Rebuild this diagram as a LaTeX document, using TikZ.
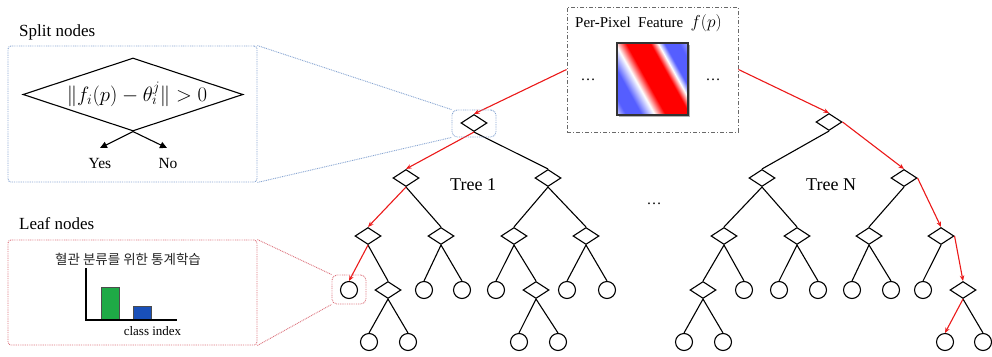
\documentclass[tikz,border=0pt]{standalone}
\usepackage{fontspec}
\setmainfont{Liberation Serif}
\newfontfamily\krfont{Noto Sans CJK KR}
\usetikzlibrary{shapes.geometric,arrows.meta}

\definecolor{splitblue}{RGB}{135,165,210}
\definecolor{leafred}{RGB}{220,115,125}
\definecolor{pathred}{RGB}{235,25,25}
\definecolor{framegray}{RGB}{105,105,105}
\definecolor{barblue}{RGB}{25,80,185}
\definecolor{bargreen}{RGB}{30,170,70}
\definecolor{wblue}{RGB}{55,65,255}
\definecolor{wred}{RGB}{255,0,0}

% sinusoidal response pattern of the per-pixel feature
\pgfdeclarehorizontalshading{gaborwave}{100bp}{%
  color(0bp)=(wblue!30!white); color(25bp)=(wblue!30!white);
  color(29bp)=(wblue!85!white); color(36bp)=(wblue!85!white);
  color(42bp)=(white); color(47bp)=(wred); color(58bp)=(wred);
  color(61.5bp)=(white); color(64.5bp)=(wblue!85!white);
  color(71bp)=(wblue!85!white); color(75bp)=(wblue!50!white);
  color(100bp)=(wblue!50!white)}

\begin{document}
\begin{tikzpicture}[x=1pt,y=-1pt,
  dnode/.style={draw, diamond, minimum width=26pt, minimum height=17pt, inner sep=0pt, line width=1.1pt},
  lnode/.style={draw, circle, minimum size=17pt, inner sep=0pt, line width=1.1pt},
  edge/.style={line width=1.1pt},
  redge/.style={draw=pathred, line width=1.1pt, -{Stealth[length=5.5pt,width=4.5pt]}},
  dotline/.style={line width=0.9pt, dash pattern=on 0.9pt off 0.9pt},
  zoombox/.style={draw, dotline, rectangle, rounded corners=3pt, inner sep=0pt},
  lbl/.style={inner sep=0pt},
]
\useasboundingbox (0,0) rectangle (992,356);

% ---------------- split node detail ----------------
\node[lbl, anchor=base west, font=\fontsize{17}{20}\selectfont] (splitlbl) at (19,36) {Split nodes};
\node[zoombox, draw=splitblue, minimum width=249pt, minimum height=136pt] (splitbox) at (132.5,114) {};
\node[draw, diamond, minimum width=220pt, minimum height=73pt, inner sep=0pt, line width=1.1pt] (sdia) at (133,94.5) {};
\node[lbl, font=\fontsize{19.5}{22}\selectfont] (rule) at (137,94) {$\bigl\| f_i(p) - \theta_i^j \bigr\| > 0$};
\coordinate (yestip) at (100,148);
\coordinate (notip) at (167,148);
\draw[edge, -{Triangle[length=7pt,width=6.5pt]}] (sdia.south) -- (yestip);
\draw[edge, -{Triangle[length=7pt,width=6.5pt]}] (sdia.south) -- (notip);
\node[lbl, anchor=base, font=\fontsize{15.5}{18}\selectfont] (yes) at (100,168) {Yes};
\node[lbl, anchor=base, font=\fontsize{15.5}{18}\selectfont] (no) at (168,168) {No};

% ---------------- leaf node detail ----------------
\node[lbl, anchor=base west, font=\fontsize{17}{20}\selectfont] (leaflbl) at (19,229) {Leaf nodes};
\node[zoombox, draw=leafred, minimum width=249pt, minimum height=105pt] (leafbox) at (132.5,292.5) {};
\node[lbl, font=\krfont\fontsize{13.5}{15}\selectfont, text=black!85] (kr) at (128,259) {혈관 분류를 위한 통계학습};
\fill[bargreen, draw=black!70, line width=0.6pt] (101,287) rectangle (119,320);
\fill[barblue, draw=black!70, line width=0.6pt] (133,306) rectangle (151,320);
\draw[line width=1.2pt] (86,268) -- (86,320) -- (177,320);
\node[lbl, anchor=base, font=\fontsize{13}{15}\selectfont] (cls) at (152.5,335.7) {class index};

% ---------------- feature box ----------------
\node[draw=framegray, line width=0.9pt, dash pattern=on 4pt off 2pt on 1pt off 2pt,
      minimum width=171pt, minimum height=125pt, inner sep=0pt] (fbox) at (652.5,69.5) {};
\node[lbl, anchor=base west, font=\fontsize{15}{18}\selectfont] (ftitle) at (575,27.5)
  {Per-Pixel\enskip Feature\enskip{\fontsize{17}{18}\selectfont$f(p)$}};
\node[lbl, font=\fontsize{15}{18}\selectfont] (fdl) at (588,80) {\ldots};
\node[lbl, font=\fontsize{15}{18}\selectfont] (fdr) at (713,80) {\ldots};
\fill[black!30] (619,45) rectangle (690,117);
\begin{scope}
  \clip (617,43) rectangle (688,115);
  \begin{scope}[transform canvas={shift={(652.5,79)}, rotate=29}]
    \shade[shading=gaborwave] (-48,-62) rectangle (48,62);
  \end{scope}
\end{scope}
\draw[line width=1.3pt, draw=black!80] (617,43) rectangle (688,115);

% ---------------- tree 1 ----------------
\node[dnode] (t1r) at (474,123) {};
\node[dnode] (t1a) at (406,178) {};
\node[dnode] (t1b) at (548,178) {};
\node[dnode] (t1aa) at (368,236) {};
\node[dnode] (t1ab) at (441,236) {};
\node[dnode] (t1ba) at (514,236) {};
\node[dnode] (t1bb) at (586,236) {};
\node[lnode] (t1aaa) at (349,290) {};
\node[dnode] (t1aab) at (388,290) {};
\node[lnode] (t1aba) at (424,290) {};
\node[lnode] (t1abb) at (462,290) {};
\node[lnode] (t1baa) at (496,290) {};
\node[dnode] (t1bab) at (536,290) {};
\node[lnode] (t1bba) at (567,290) {};
\node[lnode] (t1bbb) at (607,290) {};
\node[lnode] (t1aaba) at (369,342) {};
\node[lnode] (t1aabb) at (408,342) {};
\node[lnode] (t1baba) at (519,342) {};
\node[lnode] (t1babb) at (558,342) {};
\node[lbl, anchor=base west, font=\fontsize{18}{20}\selectfont] (t1name) at (450,190) {Tree 1};

\foreach \p/\c in {t1r/t1b, t1a/t1ab, t1b/t1ba, t1b/t1bb, t1aa/t1aab,
                   t1ab/t1aba, t1ab/t1abb, t1ba/t1baa, t1ba/t1bab, t1bb/t1bba, t1bb/t1bbb,
                   t1aab/t1aaba, t1aab/t1aabb, t1bab/t1baba, t1bab/t1babb}
  \draw[edge] (\p.south) -- (\c.north);
\draw[redge] (fbox.west) -- (t1r.north);
\draw[redge] (t1r.south) -- (t1a.north);
\draw[redge] (t1a.south) -- (t1aa.north);
\draw[redge] (t1aa.south) -- (t1aaa.north);

% ---------------- tree N ----------------
\node[dnode] (tnr) at (829,122) {};
\node[dnode] (tna) at (762,178) {};
\node[dnode] (tnb) at (904,178) {};
\node[dnode] (tnaa) at (724,236) {};
\node[dnode] (tnab) at (797,236) {};
\node[dnode] (tnba) at (869,236) {};
\node[dnode] (tnbb) at (941,236) {};
\node[dnode] (tnaaa) at (703,290) {};
\node[lnode] (tnaab) at (744,290) {};
\node[lnode] (tnaba) at (779,290) {};
\node[lnode] (tnabb) at (818,290) {};
\node[lnode] (tnbaa) at (852,290) {};
\node[lnode] (tnbab) at (891,290) {};
\node[lnode] (tnbba) at (923,290) {};
\node[dnode] (tnbbb) at (963,290) {};
\node[lnode] (tnaaaa) at (684,342) {};
\node[lnode] (tnaaab) at (723,342) {};
\node[lnode] (tnbbba) at (945,342) {};
\node[lnode] (tnbbbb) at (983,342) {};
\node[lbl, anchor=base west, font=\fontsize{18}{20}\selectfont] (tnname) at (806,190) {Tree N};

\foreach \p/\c in {tnr/tna, tna/tnaa, tna/tnab, tnb/tnba, tnaa/tnaaa, tnaa/tnaab,
                   tnab/tnaba, tnab/tnabb, tnba/tnbaa, tnba/tnbab, tnbb/tnbba,
                   tnaaa/tnaaaa, tnaaa/tnaaab, tnbbb/tnbbbb}
  \draw[edge] (\p.south) -- (\c.north);
\draw[redge] (fbox.east) -- (tnr.north);
\draw[redge] (tnr.east) -- (tnb.north);
\draw[redge] (tnb.east) -- (tnbb.north);
\draw[redge] (tnbb.east) -- (tnbbb.north);
\draw[redge] (tnbbb.south) -- (tnbbba.north);

\node[lbl, font=\fontsize{15}{18}\selectfont] (between) at (654,204) {\ldots};

% ---------------- magnified markers and projection lines ----------------
\node[zoombox, draw=splitblue, rounded corners=5pt, minimum width=44pt, minimum height=27pt] (rootmark) at (474,123.5) {};
\node[zoombox, draw=leafred, rounded corners=5pt, minimum width=34pt, minimum height=29pt] (leafmark) at (349,289.5) {};
\draw[dotline, splitblue] (splitbox.north east) -- (rootmark.north west);
\draw[dotline, splitblue] (splitbox.south east) -- (rootmark.south west);
\draw[dotline, leafred] (leafbox.north east) -- (leafmark.north west);
\draw[dotline, leafred] (leafbox.south east) -- (leafmark.south west);
\end{tikzpicture}
\end{document}
